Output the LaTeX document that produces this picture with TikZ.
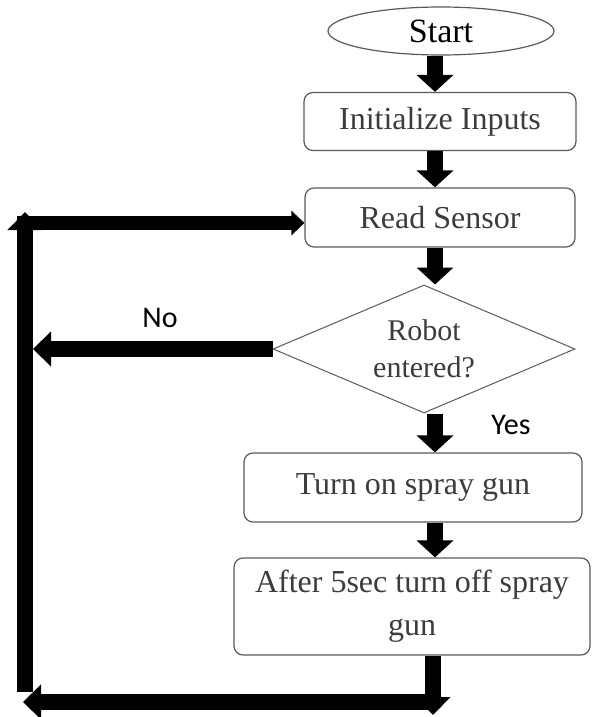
\documentclass[tikz,border=0pt]{standalone}
\usepackage{fontspec}
\setmainfont{Liberation Serif}
\newfontfamily\calib{Carlito}
\usepackage{tikz}
\usetikzlibrary{arrows.meta,shapes.geometric,calc}
\definecolor{ink}{HTML}{000000}
\definecolor{frame}{HTML}{5A5A5A}
\definecolor{txt}{HTML}{3C3C3C}
\tikzset{
  term/.style={ellipse,draw=frame,line width=0.6pt,inner sep=0pt,
    minimum width=113pt,minimum height=24pt,
    font=\fontsize{17pt}{20pt}\selectfont},
  proc/.style={rectangle,rounded corners=4.5pt,draw=frame,line width=0.6pt,
    align=center,inner sep=2pt,text=txt,
    font=\fontsize{16pt}{21.5pt}\selectfont},
  decide/.style={diamond,draw=frame,line width=0.5pt,aspect=2.36,inner sep=0pt,
    align=center,minimum width=151pt,minimum height=64pt,text=txt,
    font=\fontsize{15pt}{18.5pt}\selectfont},
  ar/.style={-{Triangle[length=8.5pt,width=18pt]},line width=8pt,draw=ink},
  loopar/.style={-{Triangle[length=9pt,width=17pt]},line width=8pt,draw=ink},
  lbl/.style={font=\calib\fontsize{15pt}{18pt}\selectfont},
}

\begin{document}
\begin{tikzpicture}[x=0.5pt,y=-0.5pt]
  \useasboundingbox (0,0) rectangle (592,717);
  \coordinate (axis) at (435,0);
  \node[term] (start) at (441,31) {Start};
  \node[proc,minimum width=136pt,minimum height=29pt] (init) at (440,121.5) {Initialize Inputs};
  \node[proc,minimum width=135pt,minimum height=29.5pt] (read) at (440,217.5) {Read Sensor};
  \node[decide] (dec) at (424,349) {Robot\\entered?};
  \node[proc,minimum width=169pt,minimum height=34.5pt] (turn) at (413,487.5) {Turn on spray gun};
  \node[proc,minimum width=178pt,minimum height=48.5pt] (after) at (412,606.5) {After 5sec turn off spray\\gun};
  \node[lbl] (no) at (160,318) {No};
  \node[lbl] (yes) at (511,425) {Yes};
  \foreach \a/\b in {start/init,init/read,read/dec,dec/turn,turn/after}
    \draw[ar] (\a.south -| axis) -- (\b.north -| axis);
  % loop back to the sensor
  \coordinate (noend) at (33,349);
  \coordinate (dn) at (433,715);
  \coordinate (botr) at (433,702);
  \coordinate (botl) at (23,702);
  \coordinate (upb) at (25,692);
  \coordinate (upt) at (25,212);
  \coordinate (topl) at (17,223);
  \draw[loopar] (dec.west) -- (noend);
  \draw[loopar] (after.south -| botr) -- (dn);
  \draw[loopar] (botr) -- (botl);
  \draw[loopar] (upb) -- (upt);
  \draw[-{Triangle[length=6.5pt,width=12pt]},line width=7pt,draw=ink] (topl) -- (topl -| read.west);
\end{tikzpicture}
\end{document}
